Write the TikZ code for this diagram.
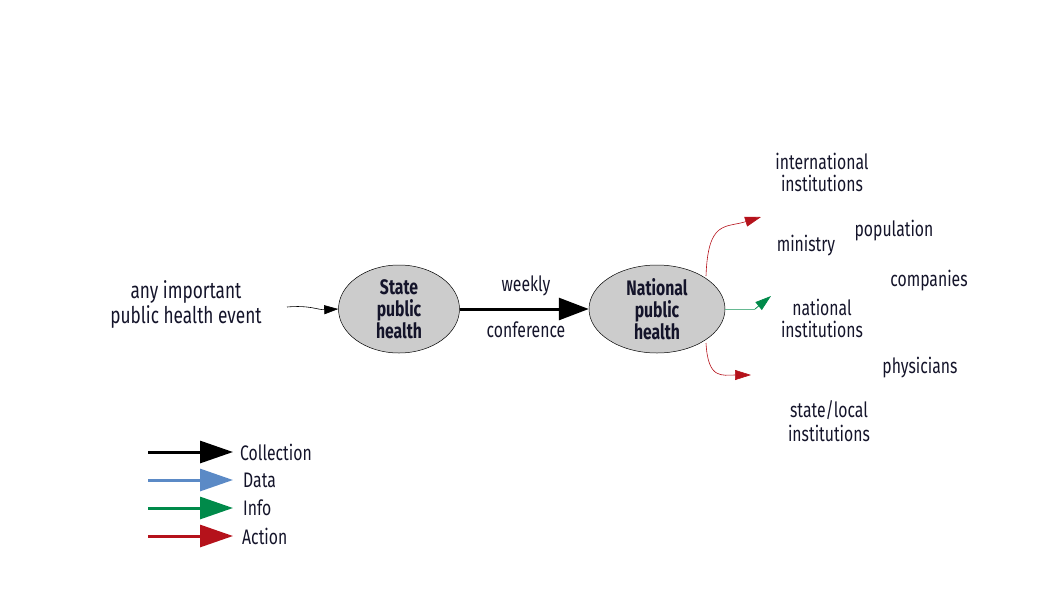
\documentclass[tikz,border=0pt]{standalone}
\usepackage{fontspec}
\setmainfont[FakeStretch=0.75]{Fira Sans}
\usetikzlibrary{arrows.meta,shapes.geometric}
\definecolor{cdata}{HTML}{5B8AC6}
\definecolor{cinfo}{HTML}{008A4A}
\definecolor{cact}{HTML}{B5121B}
\definecolor{txt}{HTML}{14142A}
\begin{document}
\begin{tikzpicture}[x=1pt,y=-1pt,
  every node/.style={text=txt,font=\fontsize{21}{22}\selectfont},
  lbl/.style={align=center,inner sep=0pt},
  hub/.style={ellipse,draw=black,line width=0.5pt,fill=black!20,align=center,inner sep=0pt,font=\fontsize{21}{22}\selectfont\bfseries},
  bigtip/.style={-{Triangle[length=30pt,width=22pt]}},
  legarrow/.style={line width=3pt,-{Triangle[length=33pt,width=22pt]}},
  smalltip/.style={-{Triangle[length=14pt,width=9pt]}},
]
\useasboundingbox (0,0) rectangle (1058,595);
% hubs
\node[hub,minimum width=121pt,minimum height=88pt] (state) at (399,309) {State\\public\\health};
\node[hub,minimum width=136pt,minimum height=88pt] (nat) at (657,309) {National\\public\\health};
% texts
\node[lbl,font=\fontsize{23}{25}\selectfont] (event) at (186,304) {any important\\public health event};
\node[lbl] (weekly) at (526,286) {weekly};
\node[lbl] (conf) at (526,330) {conference};
\node[lbl] (intl) at (822,172) {international\\institutions};
\node[lbl] (min) at (806,246) {ministry};
\node[lbl] (pop) at (894,231) {population};
\node[lbl] (comp) at (929,281) {companies};
\node[lbl] (natinst) at (822,318) {national\\institutions};
\node[lbl] (phys) at (920,368) {physicians};
\node[lbl,font=\fontsize{21}{24}\selectfont] (sl) at (829,421) {state/local\\institutions};
% connectors
\coordinate (evend) at (287,307);
\draw[line width=0.6pt,smalltip] (evend) .. controls (310,305) and (318,310) .. (state.west);
\draw[line width=3pt,bigtip] (state.east) -- (nat.west);
\coordinate (a1) at (761,217);
\coordinate (a2) at (771,296);
\coordinate (a3) at (751,375);
\draw[cact,line width=0.6pt,-{Triangle[length=16pt,width=10pt]}] (706,276) .. controls (708,220) and (725,228) .. (a1);
\draw[cinfo!60,line width=0.8pt] (nat.east) -- (755,309);
\draw[cinfo,line width=0.8pt,-{Triangle[length=16pt,width=10pt]}] (755,309) -- (a2);
\draw[cact,line width=0.6pt,-{Triangle[length=16pt,width=10pt]}] (706,343) .. controls (708,380) and (722,375) .. (a3);
% legend
\coordinate (l1s) at (148,452); \coordinate (l1e) at (233,452);
\coordinate (l2s) at (148,480); \coordinate (l2e) at (233,480);
\coordinate (l3s) at (148,508); \coordinate (l3e) at (233,508);
\coordinate (l4s) at (148,536); \coordinate (l4e) at (233,536);
\draw[legarrow,black] (l1s) -- (l1e);
\draw[legarrow,cdata] (l2s) -- (l2e);
\draw[legarrow,cinfo] (l3s) -- (l3e);
\draw[legarrow,cact] (l4s) -- (l4e);
\node[lbl,anchor=west] (lc) at (240,452) {Collection};
\node[lbl,anchor=west] (ld) at (243,480) {Data};
\node[lbl,anchor=west] (li) at (243,508) {Info};
\node[lbl,anchor=west] (la) at (242,536) {Action};
\end{tikzpicture}
\end{document}
